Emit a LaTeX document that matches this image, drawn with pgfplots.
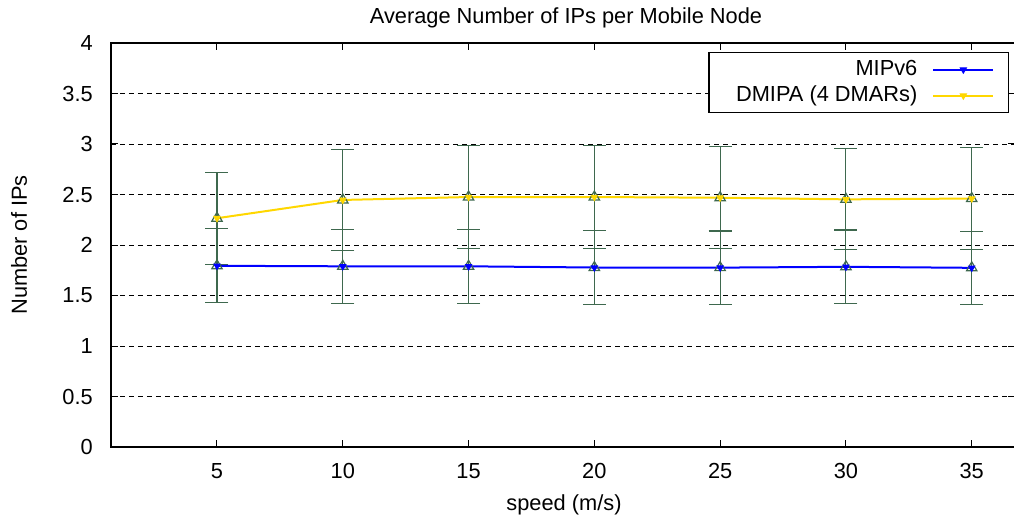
\documentclass[border=0pt]{standalone}
\usepackage{fontspec}
\setmainfont{Liberation Sans}
\usepackage{pgfplots}
\pgfplotsset{compat=1.18}
\usepackage{pgfplotstable}

\definecolor{mipblue}{RGB}{0,0,255}
\definecolor{dmgold}{RGB}{255,215,0}
\definecolor{errgreen}{RGB}{62,104,78}

% speed, mean and std deviation of the number of IPs per node
\pgfplotstableread{
x   mip    mipe   dm     dme
5   1.794  0.367  2.265  0.455
10  1.789  0.366  2.446  0.504
15  1.789  0.366  2.475  0.510
20  1.777  0.363  2.475  0.510
25  1.776  0.363  2.468  0.505
30  1.784  0.365  2.452  0.500
35  1.774  0.361  2.460  0.505
}\ipdata

\begin{document}
\begin{tikzpicture}[font=\fontsize{21.8bp}{26bp}\selectfont]
\begin{axis}[
  at={(0,0)}, anchor=south west,
  scale only axis, width=904bp, height=404bp,
  xmin=0.787, xmax=36.72, ymin=0, ymax=4,
  xtick={5,10,15,20,25,30,35},
  ytick={0,0.5,1,1.5,2,2.5,3,3.5,4},
  tick align=inside, major tick length=7bp,
  axis line style={line width=1.3bp},
  every tick/.style={black, line width=1bp},
  ymajorgrids,
  grid style={black, line width=0.9bp, dash pattern=on 5bp off 4bp},
  /pgf/number format/assume math mode=true,
  xticklabel style={inner sep=0pt, anchor=north, yshift=-16bp},
  yticklabel style={inner sep=0pt, anchor=east, xshift=-18bp},
  title={Average Number of IPs per Mobile Node},
  title style={at={(axis description cs:0.5,1)}, anchor=base, yshift=14bp, xshift=3bp, inner sep=0pt},
  xlabel={speed (m/s)},
  xlabel style={at={(axis description cs:0.5,0)}, anchor=base, yshift=-63bp, xshift=1bp, inner sep=0pt},
  ylabel={Number of IPs},
  ylabel style={at={(axis description cs:0,0.5)}, anchor=base, yshift=84bp, inner sep=0pt},
  legend plot pos=right,
  legend cell align=right,
  legend style={at={(0.99336,0.97772)}, anchor=north east, draw=black, line width=1.3bp,
    inner xsep=14bp, inner ysep=6bp, row sep=4bp, column sep=15bp,
    nodes={inner sep=0pt, text height=17bp, text depth=5bp}, fill=white},
  legend image code/.code={\draw[mark repeat=2,mark phase=2] plot coordinates {(0bp,0bp)(30bp,0bp)(60bp,0bp)};},
]
% error bars with open triangles at the means
\addplot[forget plot, only marks, errgreen, mark=triangle, mark size=6bp,
  mark options={line width=1.2bp, fill=none},
  error bars/.cd, y dir=both, y explicit,
  error bar style={line width=1.1bp, errgreen},
  error mark options={rotate=90, mark size=11.5bp, line width=1.1bp, errgreen}]
  table[x=x, y=mip, y error=mipe] {\ipdata};
\addplot[forget plot, only marks, errgreen, mark=triangle, mark size=6bp,
  mark options={line width=1.2bp, fill=none},
  error bars/.cd, y dir=both, y explicit,
  error bar style={line width=1.1bp, errgreen},
  error mark options={rotate=90, mark size=11.5bp, line width=1.1bp, errgreen}]
  table[x=x, y=dm, y error=dme] {\ipdata};
% mean curves
\addplot[mipblue, line width=2bp, mark=triangle*, mark size=3.5bp, mark options={rotate=180, solid, line width=1bp}]
  table[x=x, y=mip] {\ipdata};
\addlegendentry{MIPv6}
\addplot[dmgold, line width=2bp, mark=triangle*, mark size=3.5bp, mark options={rotate=180, solid, line width=1bp}]
  table[x=x, y=dm] {\ipdata};
\addlegendentry{\hspace*{13bp}DMIPA (4 DMARs)}
\end{axis}
\pgfresetboundingbox
\useasboundingbox (-111bp,-68bp) rectangle (903bp,447bp);
\end{tikzpicture}
\end{document}
